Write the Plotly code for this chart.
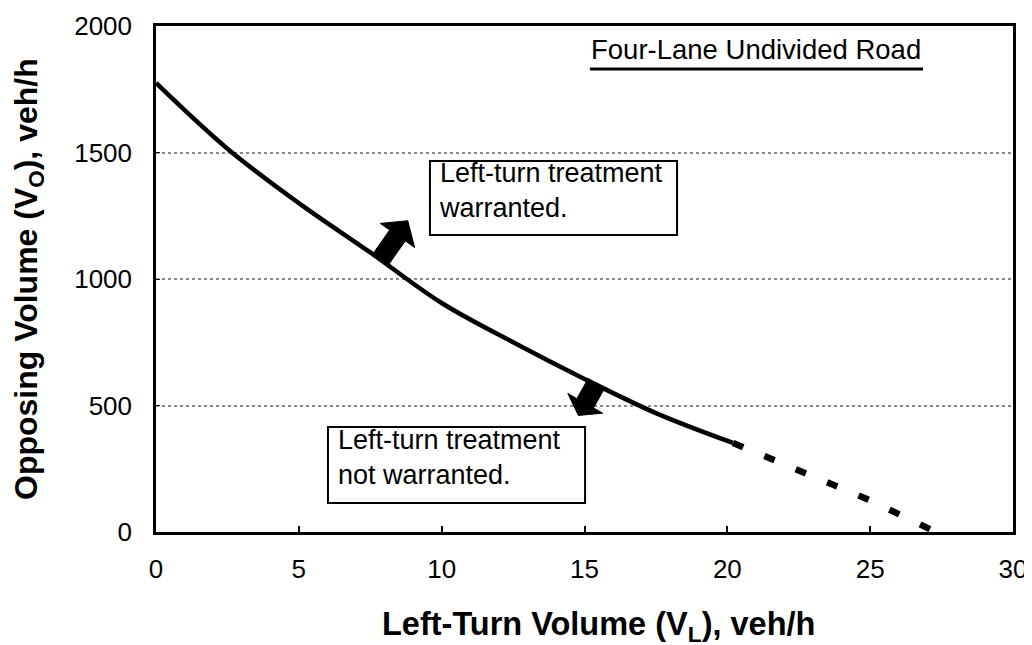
import math
import plotly.graph_objects as go

# Data
solid_x = [0, 2.5, 5, 7.5, 10, 12.5, 15, 17.5, 20.2]
solid_y = [1775, 1515, 1300, 1105, 905, 750, 605, 470, 352]
dash_x = [20.2, 22.5, 25, 27.3]
dash_y = [352, 240, 125, 0]

x_ticks = [0, 5, 10, 15, 20, 25, 30]
y_ticks = [0, 500, 1000, 1500, 2000]

FONT = "Liberation Sans, Arial, sans-serif"

fig = go.Figure()
fig.add_trace(go.Scatter(x=solid_x, y=solid_y, mode="lines", line=dict(color="black", width=4.5, shape="spline"),
                         showlegend=False, hoverinfo="skip"))
fig.add_trace(go.Scatter(x=dash_x, y=dash_y, mode="lines", line=dict(color="black", width=6.5, dash="11px,23px"),
                         showlegend=False, hoverinfo="skip"))

# Text boxes
fig.add_shape(type="rect", xref="x", yref="y", x0=9.59, x1=18.24, y0=1174, y1=1466,
              line=dict(color="black", width=2), fillcolor="white", layer="above")
fig.add_shape(type="rect", xref="x", yref="y", x0=6.02, x1=15.02, y0=115, y1=415,
              line=dict(color="black", width=2), fillcolor="white", layer="above")
fig.add_annotation(x=9.84, y=1350, xref="x", yref="y", xanchor="left", yanchor="middle", align="left",
                   text="Left-turn treatment<br>warranted.", showarrow=False,
                   font=dict(family=FONT, size=27, color="black"))
fig.add_annotation(x=6.3, y=296, xref="x", yref="y", xanchor="left", yanchor="middle", align="left",
                   text="Left-turn treatment<br>not warranted.", showarrow=False,
                   font=dict(family=FONT, size=27, color="black"))

# Header with underline
fig.add_annotation(x=21.0, y=1909, xref="x", yref="y", xanchor="center", yanchor="middle",
                   text="Four-Lane Undivided Road", showarrow=False,
                   font=dict(family=FONT, size=27.5, color="black"))
fig.add_shape(type="line", xref="x", yref="y", x0=15.19, x1=26.85, y0=1830, y1=1830,
              line=dict(color="black", width=3))


# Block arrows (drawn in pixel units around a data anchor)
def block_arrow(ax, ay, dx, dy, shaft_len, shaft_hw, head_len, head_hw):
    L = math.hypot(dx, dy)
    ux, uy = dx / L, dy / L
    nx, ny = -uy, ux
    pts = [
        (-nx * shaft_hw, -ny * shaft_hw),
        (ux * shaft_len - nx * shaft_hw, uy * shaft_len - ny * shaft_hw),
        (ux * shaft_len - nx * head_hw, uy * shaft_len - ny * head_hw),
        (ux * (shaft_len + head_len), uy * (shaft_len + head_len)),
        (ux * shaft_len + nx * head_hw, uy * shaft_len + ny * head_hw),
        (ux * shaft_len + nx * shaft_hw, uy * shaft_len + ny * shaft_hw),
        (nx * shaft_hw, ny * shaft_hw),
    ]
    path = "M " + " L ".join(f"{px:.1f},{py:.1f}" for px, py in pts) + " Z"
    fig.add_shape(type="path", xref="x", yref="y", xsizemode="pixel", ysizemode="pixel",
                  xanchor=ax, yanchor=ay, path=path, fillcolor="black",
                  line=dict(color="black", width=1))


block_arrow(7.85, 1075, 28, 40, 30, 9.5, 18, 21)
block_arrow(15.42, 588, -18, -32, 23, 9.5, 14, 20)

# Axis titles
fig.add_annotation(xref="paper", yref="paper", x=0, y=0.5, xshift=-128, textangle=-90,
                   xanchor="center", yanchor="middle", showarrow=False,
                   text="<b>Opposing Volume (V<sub>O</sub>), veh/h</b>",
                   font=dict(family=FONT, size=32, color="black"))
fig.add_annotation(xref="paper", yref="paper", x=0.5, y=0, yshift=-94, xshift=14,
                   xanchor="center", yanchor="middle", showarrow=False,
                   text="<b>Left-Turn Volume (V<sub>L</sub>), veh/h</b>",
                   font=dict(family=FONT, size=32.5, color="black"))

fig.update_layout(
    width=1032, height=645,
    margin=dict(l=148, r=27, t=18, b=121, autoexpand=False),
    paper_bgcolor="white", plot_bgcolor="white",
    font=dict(family=FONT, color="black"),
    showlegend=False,
)
fig.update_xaxes(
    range=[0, 30], tickvals=x_ticks, ticktext=[str(v) for v in x_ticks],
    showline=True, linecolor="black", linewidth=2.5, mirror=True,
    ticks="inside", ticklen=6, tickcolor="black", tickwidth=1.5,
    showgrid=False, zeroline=False, automargin=False,
    tickfont=dict(family=FONT, size=26, color="black"),
    ticklabelstandoff=12,
)
fig.update_yaxes(
    range=[0, 2000], tickvals=y_ticks, ticktext=[str(v) for v in y_ticks],
    showline=True, linecolor="black", linewidth=2.5, mirror=True,
    ticks="inside", ticklen=4, tickcolor="black", tickwidth=1,
    showgrid=True, gridcolor="#8a8a8a", griddash="dot", gridwidth=1.5,
    zeroline=False, automargin=False,
    tickfont=dict(family=FONT, size=26, color="black"),
    ticklabelstandoff=16,
)

fig.write_html("out.html")
